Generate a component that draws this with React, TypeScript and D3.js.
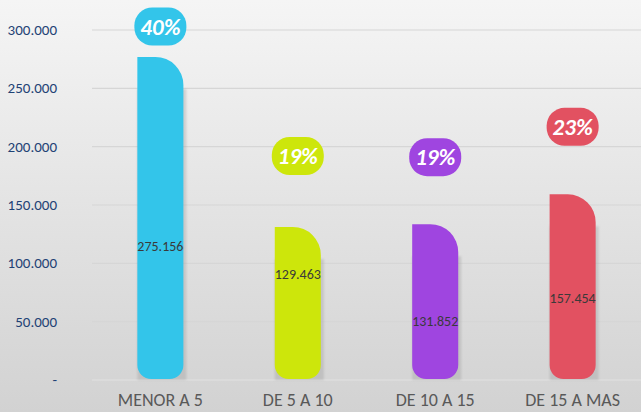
import React, { useRef, useEffect } from 'react';
import * as d3 from 'd3';

const categories = ['MENOR A 5', 'DE 5 A 10', 'DE 10 A 15', 'DE 15 A MAS'];
const values = [275156, 129463, 131852, 157454];
const percents = ['40%', '19%', '19%', '23%'];
const colors = ['#33c5ea', '#cde60b', '#9f45e0', '#e25161'];
// where the value labels and the badges sit, in axis units
const labelAt = [115000, 91000, 51000, 70000];
const badgeAt = [303000, 192000, 191000, 217000];
const yTicks = [0, 50000, 100000, 150000, 200000, 250000, 300000];

const fmt = (v: number) => (v === 0 ? '-' : d3.format(',.0f')(v).replace(/,/g, '.'));
const fmtVal = (v: number) => d3.format(',')(v).replace(/,/g, '.');

function App() {
  const svgRef = useRef<SVGSVGElement>(null);

  useEffect(() => {
    const svg = d3.select(svgRef.current);
    svg.selectAll('*').remove();

    const width = 641;
    const height = 412;
    const left = 92;
    const right = 641;

    const x = d3.scaleBand().domain(categories).range([left, right]).paddingInner(0.665).paddingOuter(0.33);
    const y = d3.scaleLinear().domain([0, 300000]).range([380, 30]);

    const defs = svg.append('defs');
    const grad = defs.append('linearGradient').attr('id', 'bg').attr('x1', 0).attr('x2', 0).attr('y1', 0).attr('y2', 1);
    grad.append('stop').attr('offset', '0%').attr('stop-color', '#f5f5f5');
    grad.append('stop').attr('offset', '100%').attr('stop-color', '#d2d2d2');
    defs.append('filter').attr('id', 'blur').append('feGaussianBlur').attr('stdDeviation', 1);

    svg.attr('width', width).attr('height', height);
    svg.append('rect').attr('width', width).attr('height', height).attr('fill', 'url(#bg)');

    // gridlines
    svg.append('g')
      .selectAll('line')
      .data(yTicks)
      .enter()
      .append('line')
      .attr('x1', left)
      .attr('x2', right)
      .attr('y1', d => y(d))
      .attr('y2', d => y(d))
      .attr('stroke', d => (d === 0 ? '#e2e2e2' : '#d6d6d6'))
      .attr('stroke-width', 1.2);

    // y tick labels
    svg.append('g')
      .selectAll('text')
      .data(yTicks)
      .enter()
      .append('text')
      .attr('x', 57)
      .attr('y', d => y(d) + 5)
      .attr('text-anchor', 'end')
      .attr('fill', '#1f4275')
      .style('font-family', "Carlito, 'Liberation Sans', sans-serif")
      .style('font-size', '15px')
      .text(d => fmt(d));

    const bw = x.bandwidth();
    const barPath = (x0: number, top: number, bottom: number) => {
      const rx = 28, ry = 28, rb = 14;
      const x1 = x0 + bw;
      return `M${x0},${top} L${x1 - rx},${top} A${rx},${ry} 0 0 1 ${x1},${top + ry}
        L${x1},${bottom - rb} A${rb},${rb} 0 0 1 ${x1 - rb},${bottom}
        L${x0 + rb},${bottom} A${rb},${rb} 0 0 1 ${x0},${bottom - rb} Z`;
    };

    const g = svg.append('g');
    // soft shadow behind each bar
    g.selectAll('rect.shadow')
      .data(values)
      .enter()
      .append('rect')
      .attr('class', 'shadow')
      .attr('x', (d, i) => (x(categories[i]) as number))
      .attr('y', d => y(d) + 30)
      .attr('width', bw + 3)
      .attr('height', d => 380 - y(d) - 30)
      .attr('fill', '#9a9a9a')
      .attr('opacity', 0.35)
      .attr('filter', 'url(#blur)');

    g.selectAll('path.bar')
      .data(values)
      .enter()
      .append('path')
      .attr('class', 'bar')
      .attr('d', (d, i) => barPath(x(categories[i]) as number, y(d) - 2, 379))
      .attr('fill', (d, i) => colors[i]);

    // value labels
    g.selectAll('text.val')
      .data(values)
      .enter()
      .append('text')
      .attr('x', (d, i) => (x(categories[i]) as number) + bw / 2)
      .attr('y', (d, i) => y(labelAt[i]) + 5)
      .attr('text-anchor', 'middle')
      .attr('fill', '#3a3a3a')
      .style('font-family', "Carlito, 'Liberation Sans', sans-serif")
      .style('font-size', '14px')
      .text(d => fmtVal(d));

    // percent badges
    const bwid = 52, bh = 38;
    g.selectAll('rect.badge')
      .data(percents)
      .enter()
      .append('rect')
      .attr('x', (d, i) => (x(categories[i]) as number) + bw / 2 - bwid / 2)
      .attr('y', (d, i) => y(badgeAt[i]) - bh / 2)
      .attr('width', bwid)
      .attr('height', bh)
      .attr('rx', 18)
      .attr('fill', (d, i) => colors[i]);

    g.selectAll('text.pct')
      .data(percents)
      .enter()
      .append('text')
      .attr('x', (d, i) => (x(categories[i]) as number) + bw / 2)
      .attr('y', (d, i) => y(badgeAt[i]) + 8)
      .attr('text-anchor', 'middle')
      .attr('fill', '#ffffff')
      .style('font-family', "Carlito, 'Liberation Sans', Arial, sans-serif")
      .style('font-weight', 'bold')
      .style('font-style', 'italic')
      .style('font-size', '23px')
      .text(d => d);

    // category labels
    svg.append('g')
      .selectAll('text')
      .data(categories)
      .enter()
      .append('text')
      .attr('x', d => (x(d) as number) + bw / 2)
      .attr('y', 406)
      .attr('text-anchor', 'middle')
      .attr('fill', '#595959')
      .style('font-family', "Carlito, 'Liberation Sans', sans-serif")
      .style('font-size', '18px')
      .text(d => d);
  }, []);

  return <svg ref={svgRef} style={{ position: 'absolute', left: 0, top: 0 }}></svg>;
}

export default App;
